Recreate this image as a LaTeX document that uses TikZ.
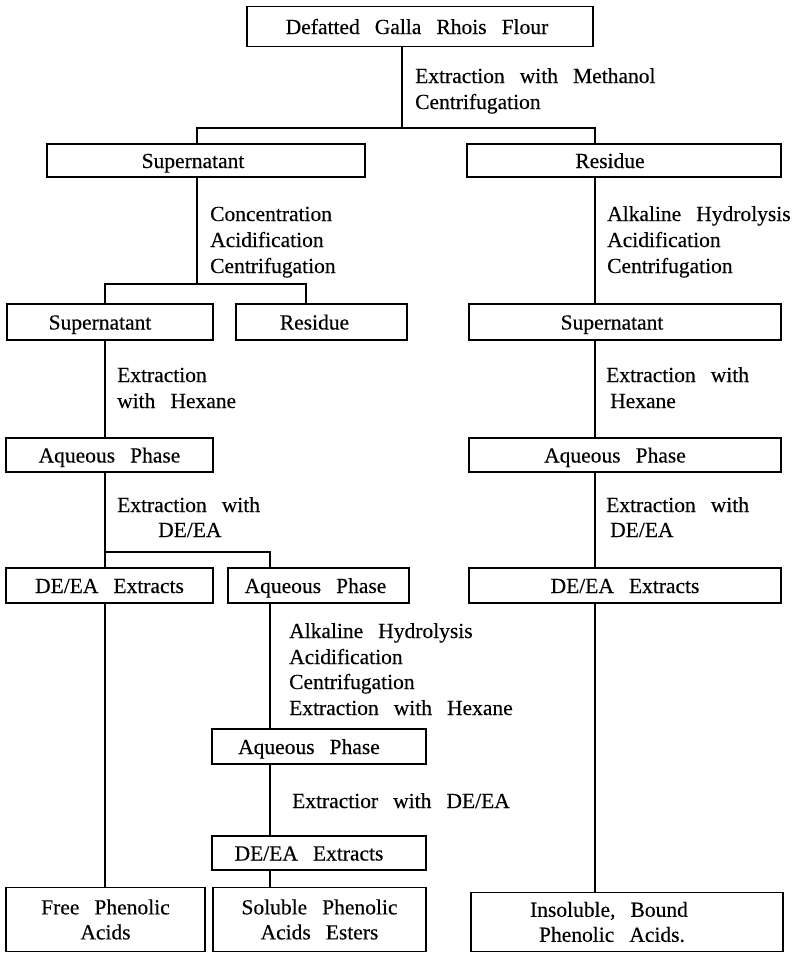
\documentclass[tikz,border=0pt]{standalone}
\usepackage{fontspec}
\setmainfont{Liberation Serif}[WordSpace=2.8, FakeBold=0.3]
\begin{document}
\begin{tikzpicture}[x=1pt,y=-1pt,
  box/.style={draw, line width=1.5pt, inner sep=0pt, align=center,
    font=\fontsize{21.5}{25}\selectfont},
  one/.style={box, text height=17pt, text depth=2pt},
  lbl/.style={anchor=base west, inner sep=0pt, font=\fontsize{21.5}{25}\selectfont},
  conn/.style={line width=1.5pt}]
\useasboundingbox (0,0) rectangle (795,954);

% boxes
\node[one, minimum width=346pt, minimum height=40pt] (top) at (420,26.5) {Defatted Galla Rhois Flour\hspace*{6pt}};
\node[one, minimum width=318pt, minimum height=33pt] (sup1) at (206,160.5) {Supernatant\hspace*{26pt}};
\node[one, minimum width=314pt, minimum height=33pt] (res1) at (624,160.5) {Residue\hspace*{28pt}};
\node[one, minimum width=206pt, minimum height=36pt] (sup2) at (110,322) {Supernatant\hspace*{20pt}};
\node[one, minimum width=171pt, minimum height=36pt] (res2) at (321.5,322) {Residue\hspace*{14pt}};
\node[one, minimum width=312pt, minimum height=36pt] (sup3) at (625,322) {Supernatant\hspace*{26pt}};
\node[one, minimum width=207pt, minimum height=34pt] (aq1) at (109.5,455) {Aqueous Phase};
\node[one, minimum width=312pt, minimum height=34pt] (aq2) at (625,455) {Aqueous Phase\hspace*{20pt}};
\node[one, minimum width=207pt, minimum height=35pt] (de1) at (109.5,585.5) {DE/EA Extracts};
\node[one, minimum width=181pt, minimum height=35pt] (aq3) at (318.5,585.5) {Aqueous Phase\hspace*{6pt}};
\node[one, minimum width=312pt, minimum height=35pt] (de3) at (625,585.5) {DE/EA Extracts};
\node[one, minimum width=214pt, minimum height=35pt] (aq4) at (319,746.5) {Aqueous Phase\hspace*{20pt}};
\node[one, minimum width=214pt, minimum height=34pt] (de4) at (319,853) {DE/EA Extracts\hspace*{20pt}};
\node[box, minimum width=199pt, minimum height=64pt] (free) at (105.5,919.5) {Free Phenolic\\Acids};
\node[box, minimum width=213pt, minimum height=64pt] (sol) at (319.5,919.5) {Soluble Phenolic\\Acids Esters};
\node[box, minimum width=312pt, minimum height=59pt] (insol) at (627,922) {Insoluble, Bound\hspace*{36pt}\\Phenolic Acids.\hspace*{30pt}};

% junctions
\coordinate (j1) at (402,128);
\coordinate (jL) at (197,128);
\coordinate (jR) at (595,128);
\coordinate (j2) at (197,284);
\coordinate (j2L) at (105,284);
\coordinate (j2R) at (306,284);
\coordinate (j3L) at (105,552);
\coordinate (j3R) at (270,552);

% connectors
\draw[conn] (top.south -| j1) -- (j1);
\draw[conn] (sup1.north -| jL) -- (jL) -- (jR) -- (res1.north -| jR);
\draw[conn] (sup1.south -| j2) -- (j2);
\draw[conn] (sup2.north -| j2L) -- (j2L) -- (j2R) -- (res2.north -| j2R);
\draw[conn] (res1.south -| jR) -- (sup3.north -| jR);
\draw[conn] (sup2.south -| j2L) -- (aq1.north -| j2L);
\draw[conn] (sup3.south -| jR) -- (aq2.north -| jR);
\draw[conn] (aq1.south -| j3L) -- (j3L) -- (j3R) -- (aq3.north -| j3R);
\draw[conn] (j3L) -- (de1.north -| j3L);
\draw[conn] (aq2.south -| jR) -- (de3.north -| jR);
\draw[conn] (aq3.south -| j3R) -- (aq4.north -| j3R);
\draw[conn] (aq4.south -| j3R) -- (de4.north -| j3R);
\draw[conn] (de4.south -| j3R) -- (sol.north -| j3R);
\draw[conn] (de1.south -| j3L) -- (free.north -| j3L);
\draw[conn] (de3.south -| jR) -- (insol.north -| jR);

% labels
\node[lbl] (la1) at (415,83) {Extraction with Methanol};
\node[lbl] (la2) at (415,109) {Centrifugation};
\node[lbl] (lb1) at (210,221) {Concentration};
\node[lbl] (lb2) at (210,247) {Acidification};
\node[lbl] (lb3) at (210,273) {Centrifugation};
\node[lbl] (lc1) at (607,221) {Alkaline Hydrolysis};
\node[lbl] (lc2) at (607,247) {Acidification};
\node[lbl] (lc3) at (607,273) {Centrifugation};
\node[lbl] (ld1) at (117,382) {Extraction};
\node[lbl] (ld2) at (117,408) {with Hexane};
\node[lbl] (le1) at (606,382) {Extraction with};
\node[lbl] (le2) at (610,408) {Hexane};
\node[lbl] (lf1) at (117,512) {Extraction with};
\node[lbl] (lf2) at (158,537) {DE/EA};
\node[lbl] (lg1) at (606,512) {Extraction with};
\node[lbl] (lg2) at (610,537) {DE/EA};
\node[lbl] (lh1) at (289,638) {Alkaline Hydrolysis};
\node[lbl] (lh2) at (289,664) {Acidification};
\node[lbl] (lh3) at (289,689) {Centrifugation};
\node[lbl] (lh4) at (289,715) {Extraction with Hexane};
\node[lbl] (li1) at (292,808) {Extractior with DE/EA};
\end{tikzpicture}
\end{document}
